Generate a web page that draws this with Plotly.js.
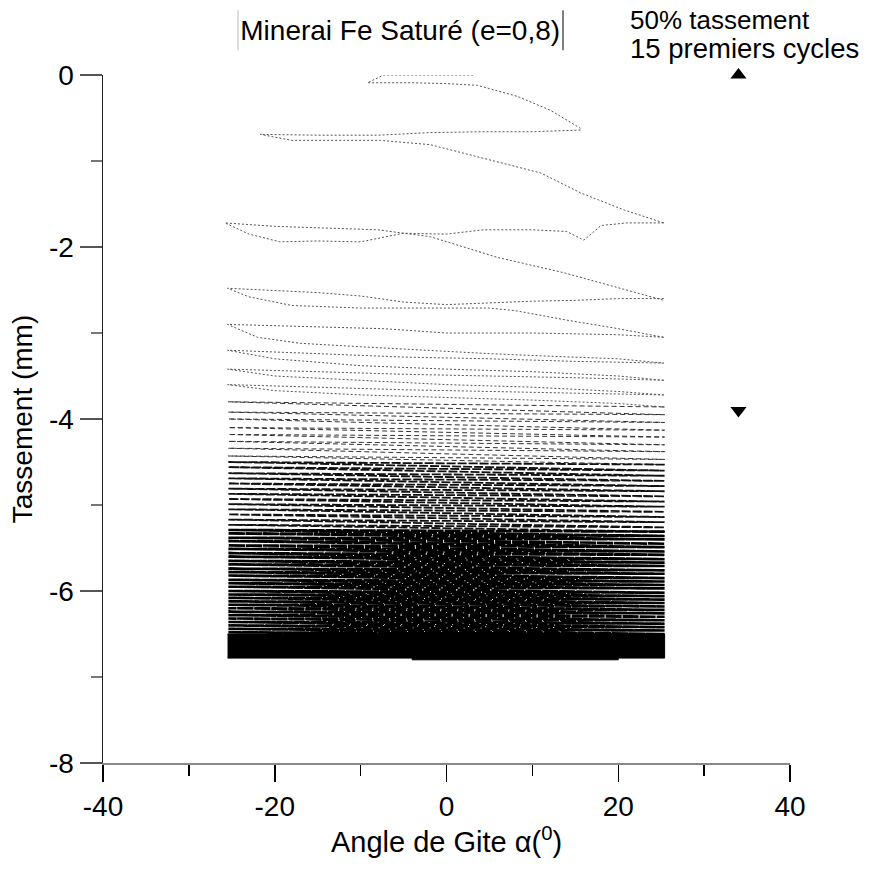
<!DOCTYPE html>
<html>
<head>
<meta charset="utf-8">
<script src="https://cdn.plot.ly/plotly-3.0.1.min.js"></script>
<style>html,body{margin:0;padding:0;background:#fff;}#chart{width:870px;height:871px;}</style>
</head>
<body>
<div id="chart"></div>
<script>
// ---- Data (angle in degrees, settlement in mm) ----
const cycle1X = [3.1, -2, -7.3, -9.2, -4, 0, 3.6, 8.3, 12.1, 15.6];
const cycle1Y = [0, 0, 0, -0.09, -0.09, -0.1, -0.12, -0.25, -0.41, -0.62];

const cycle2X = [15.6, 10, 4, -2, -8, -15, -21.7, -18, -12, -7.7, -1.9, 5.1, 11, 15.6, 20.7, 25.3];
const cycle2Y = [-0.64, -0.66, -0.66, -0.67, -0.7, -0.7, -0.69, -0.76, -0.76, -0.76, -0.81, -0.99, -1.14, -1.37, -1.57, -1.72];

const cycle3X = [25.3, 21, 18, 16, 14, 10, 4.3, 0, -5, -10, -15, -19.4, -23, -25.8, -20, -15, -8, -1.9, 5.9, 13.7, 20, 25.3];
const cycle3Y = [-1.72, -1.72, -1.75, -1.92, -1.82, -1.8, -1.8, -1.85, -1.84, -1.94, -1.93, -1.94, -1.85, -1.72, -1.76, -1.78, -1.8, -1.88, -2.12, -2.3, -2.47, -2.62];

const cycle4X = [25.3, 20, 15, 10, 5, 0, -5, -10, -15, -20, -25.5, -23, -18, -10, -2, 5, 8, 14, 20, 25.3];
const cycle4Y = [-2.6, -2.6, -2.62, -2.63, -2.65, -2.67, -2.64, -2.57, -2.53, -2.51, -2.48, -2.58, -2.68, -2.71, -2.71, -2.71, -2.74, -2.85, -2.95, -3.05];

const cycle5X = [25.3, 20, 10, 0, -7.3, -15, -25.5, -22, -17, -10, -3, 5, 12, 20, 25.3];
const cycle5Y = [-3.05, -3.02, -3.0, -3.0, -2.95, -2.93, -2.9, -3.05, -3.12, -3.16, -3.2, -3.24, -3.27, -3.3, -3.35];

const cycle6X = [25.3, 15, 5, -5, -15, -25.5, -20, -10, 0, 10, 20, 25.3];
const cycle6Y = [-3.35, -3.33, -3.3, -3.28, -3.24, -3.2, -3.3, -3.38, -3.42, -3.45, -3.5, -3.55];

const cycle7X = [25.3, 15, 5, -5, -15, -25.5, -20, -10, 0, 10, 20, 25.3];
const cycle7Y = [-3.55, -3.52, -3.5, -3.48, -3.45, -3.42, -3.5, -3.55, -3.6, -3.63, -3.68, -3.72];

const cycle8X = [25.3, 15, 5, -5, -15, -25.5, -20, -10, 0, 10, 20, 25.3];
const cycle8Y = [-3.72, -3.7, -3.68, -3.66, -3.63, -3.6, -3.67, -3.72, -3.75, -3.78, -3.82, -3.86];

// Later cycles: settlement at successive sweep ends (alternating right / left roll limit)
const sweepEnds = [25.4, -25.4];
const sweepsLight = [-3.86, -3.8, -3.95, -3.92, -4.04, -4.0, -4.13, -4.1, -4.21, -4.18, -4.3, -4.26, -4.38, -4.34, -4.47, -4.43, -4.53];
const sweepsMid = [-4.53, -4.5, -4.6, -4.56, -4.66, -4.63, -4.72, -4.69, -4.78, -4.75, -4.84, -4.81, -4.9, -4.87, -4.96, -4.93, -5.02, -4.99, -5.08, -5.05, -5.14, -5.11, -5.2, -5.17, -5.26, -5.23, -5.31];
const sweepsDense = [-5.31, -5.29, -5.36, -5.33, -5.4, -5.38, -5.45, -5.42, -5.49, -5.47, -5.54, -5.51, -5.58, -5.56, -5.63, -5.6, -5.67, -5.65, -5.71, -5.69, -5.76, -5.74, -5.8, -5.78, -5.85, -5.82, -5.89, -5.87, -5.93, -5.91, -5.97, -5.95, -6.02, -6.0, -6.06, -6.04, -6.1, -6.08, -6.14, -6.12, -6.18, -6.16, -6.22, -6.2, -6.26, -6.24, -6.3, -6.28, -6.34, -6.32, -6.38, -6.36, -6.42, -6.4, -6.46, -6.44, -6.5, -6.48, -6.52];

// Final compacted band (outline of the saturated black zone)
const bandX = [-25.5, -4, -4, 20, 20, 25.4, 25.4, -25.5];
const bandY = [-6.78, -6.78, -6.8, -6.8, -6.78, -6.78, -6.5, -6.5];

// 50% settlement markers after the first 15 cycles
const markX = [34, 34];
const markY = [0, -3.9];
const markSymbols = ['triangle-up', 'triangle-down'];

const xTicks = [-40, -20, 0, 20, 40];
const yTicks = [0, -2, -4, -6, -8];

// ---- Build traces ----
const earlyCycles = [
  [cycle1X, cycle1Y], [cycle2X, cycle2Y], [cycle3X, cycle3Y], [cycle4X, cycle4Y],
  [cycle5X, cycle5Y], [cycle6X, cycle6Y], [cycle7X, cycle7Y], [cycle8X, cycle8Y]
];
const traces = [];
earlyCycles.forEach(c => {
  traces.push({
    type: 'scatter', mode: 'lines', x: c[0], y: c[1],
    line: {color: '#555', width: 1, dash: '2px,2px'}, hoverinfo: 'skip', showlegend: false
  });
});
function sweepTrace(levels, width, dash, color) {
  return {
    type: 'scatter', mode: 'lines',
    x: levels.map((v, i) => sweepEnds[i % 2]), y: levels,
    line: {color: color, width: width, dash: dash}, hoverinfo: 'skip', showlegend: false
  };
}
traces.push(sweepTrace(sweepsLight, 1, '5px,3px', '#333'));
traces.push(sweepTrace(sweepsMid, 1.8, '9px,2px', '#111'));
traces.push(sweepTrace(sweepsDense, 2.6, '16px,1px', '#000'));
traces.push({
  type: 'scatter', mode: 'lines', x: bandX, y: bandY, fill: 'toself',
  fillcolor: '#000', line: {color: '#000', width: 1}, hoverinfo: 'skip', showlegend: false
});
traces.push({
  type: 'scatter', mode: 'markers', x: markX, y: markY, cliponaxis: false,
  marker: {symbol: markSymbols, size: 14, color: '#000'}, hoverinfo: 'skip', showlegend: false
});

const font = 'Liberation Sans, Arial, sans-serif';
const layout = {
  width: 870, height: 871,
  margin: {l: 103, r: 80, t: 75, b: 108},
  paper_bgcolor: '#fff', plot_bgcolor: '#fff',
  font: {family: font, color: '#000', size: 28},
  showlegend: false,
  title: {
    text: 'Minerai Fe Saturé (e=0,8)', font: {family: font, size: 28, color: '#000'},
    xref: 'container', x: 0.46, xanchor: 'center', yref: 'container', y: 0.965, yanchor: 'middle'
  },
  xaxis: {
    range: [-40, 40], tickvals: xTicks, ticktext: xTicks.map(String),
    ticks: 'outside', ticklen: 17, tickwidth: 1.5, tickcolor: '#000',
    showline: true, linecolor: '#888', linewidth: 2,
    showgrid: false, zeroline: false,
    tickfont: {family: font, size: 28, color: '#000'},
    minor: {dtick: 10, tick0: 0, ticks: 'outside', ticklen: 11, tickwidth: 1.5, tickcolor: '#000', showgrid: false},
    title: {text: 'Angle de Gite α(<sup>0</sup>)', font: {family: font, size: 29, color: '#000'}, standoff: 6}
  },
  yaxis: {
    range: [-8, 0], tickvals: yTicks, ticktext: yTicks.map(String),
    ticks: 'outside', ticklen: 22, tickwidth: 1.5, tickcolor: '#555',
    showline: true, linecolor: '#222', linewidth: 1.5,
    showgrid: false, zeroline: false,
    tickfont: {family: font, size: 28, color: '#000'},
    minor: {dtick: 1, tick0: 0, ticks: 'outside', ticklen: 11, tickwidth: 1.5, tickcolor: '#777', showgrid: false},
    title: {text: 'Tassement (mm)', font: {family: font, size: 28, color: '#000'}, standoff: 8}
  },
  shapes: [
    {type: 'line', xref: 'paper', yref: 'paper', x0: 0.1965, x1: 0.1965, y0: 1.036, y1: 1.094, line: {color: '#bbb', width: 1}},
    {type: 'line', xref: 'paper', yref: 'paper', x0: 0.6696, x1: 0.6696, y0: 1.036, y1: 1.094, line: {color: '#000', width: 1}}
  ],
  annotations: [
    {text: '50% tassement', xref: 'paper', yref: 'paper', x: 0.764, y: 1.08, xanchor: 'left', yanchor: 'middle', showarrow: false, font: {family: font, size: 26, color: '#000'}},
    {text: '15 premiers cycles', xref: 'paper', yref: 'paper', x: 0.764, y: 1.039, xanchor: 'left', yanchor: 'middle', showarrow: false, font: {family: font, size: 27.5, color: '#000'}}
  ]
};
Plotly.newPlot('chart', traces, layout, {displayModeBar: false, staticPlot: true});
</script>
</body>
</html>
